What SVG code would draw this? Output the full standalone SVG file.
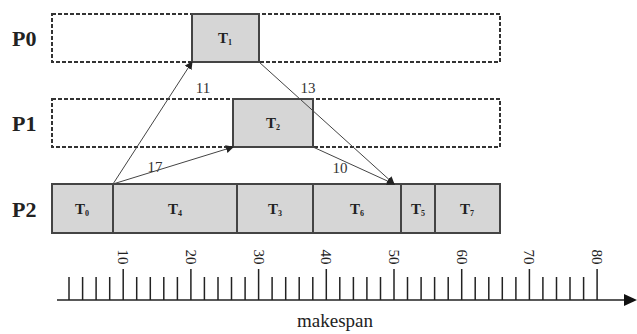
<svg xmlns="http://www.w3.org/2000/svg" width="637" height="334" viewBox="0 0 637 334">
<style>
text{font-family:'Liberation Serif','Times New Roman','DejaVu Serif',serif}
.pl{font-size:22px;fill:#222;font-weight:bold}
.tl{font-size:15px;font-weight:bold;fill:#222;text-anchor:middle}
.sub{font-size:8px}
.el{font-size:15px;fill:#333;text-anchor:middle}
.dash{fill:none;stroke:#333;stroke-width:2;stroke-dasharray:4 2}
.task{fill:#d6d6d6;stroke:#444;stroke-width:2}
.edge{stroke:#444;stroke-width:1;fill:none;marker-end:url(#ah)}
.tick{stroke:#222;stroke-width:1.5}
.ax{font-size:15px;fill:#222;text-anchor:middle}
</style>
<defs>
<marker id="ah" markerWidth="8" markerHeight="8" refX="7" refY="4" orient="auto" markerUnits="userSpaceOnUse">
<path d="M0,0 L8,4 L0,8 z" fill="#222"/>
</marker>
</defs>
<rect width="637" height="334" fill="#fff"/>
<g id="P0">
<text class="pl" x="12" y="46">P0</text>
<rect class="dash" x="52" y="14" width="448" height="48"/>
</g>
<g id="P1">
<text class="pl" x="12" y="131">P1</text>
<rect class="dash" x="52" y="99" width="448" height="48"/>
</g>
<g id="P2">
<text class="pl" x="12" y="217">P2</text>
<rect class="task" x="52" y="184" width="448" height="49"/>
</g>
<g id="T1"><rect class="task" x="192" y="14" width="67" height="48"/><text class="tl" x="225" y="43">T<tspan class="sub" dy="2">1</tspan></text></g>
<g id="T2"><rect class="task" x="233" y="99" width="80" height="48"/><text class="tl" x="273" y="128">T<tspan class="sub" dy="2">2</tspan></text></g>
<g id="T0"><rect class="task" x="52" y="184" width="61" height="49"/><text class="tl" x="82" y="214">T<tspan class="sub" dy="2">0</tspan></text></g>
<g id="T4"><rect class="task" x="113" y="184" width="124" height="49"/><text class="tl" x="175" y="214">T<tspan class="sub" dy="2">4</tspan></text></g>
<g id="T3"><rect class="task" x="237" y="184" width="76" height="49"/><text class="tl" x="275" y="214">T<tspan class="sub" dy="2">3</tspan></text></g>
<g id="T6"><rect class="task" x="313" y="184" width="88" height="49"/><text class="tl" x="357" y="214">T<tspan class="sub" dy="2">6</tspan></text></g>
<g id="T5"><rect class="task" x="401" y="184" width="34" height="49"/><text class="tl" x="418" y="214">T<tspan class="sub" dy="2">5</tspan></text></g>
<g id="T7"><rect class="task" x="435" y="184" width="65" height="49"/><text class="tl" x="467" y="214">T<tspan class="sub" dy="2">7</tspan></text></g>
<g id="connectors">
<line class="edge" x1="113" y1="184" x2="192" y2="62"/>
<line class="edge" x1="113" y1="184" x2="233" y2="147"/>
<line class="edge" x1="259" y1="62" x2="394" y2="184"/>
<line class="edge" x1="313" y1="147" x2="394" y2="184"/>
<text class="el" x="203" y="93">11</text>
<text class="el" x="308" y="93">13</text>
<text class="el" x="155" y="172">17</text>
<text class="el" x="340" y="173">10</text>
</g>
<g id="axis">
<line x1="57" y1="300" x2="626" y2="300" stroke="#222" stroke-width="1.5"/>
<path d="M624,294 L637,300 L624,306 z" fill="#111"/>
<g class="tick">
<line x1="69.0" y1="277" x2="69.0" y2="300"/><line x1="82.6" y1="277" x2="82.6" y2="300"/><line x1="96.1" y1="277" x2="96.1" y2="300"/><line x1="109.7" y1="277" x2="109.7" y2="300"/><line x1="123.2" y1="269" x2="123.2" y2="300"/>
<line x1="136.7" y1="277" x2="136.7" y2="300"/><line x1="150.3" y1="277" x2="150.3" y2="300"/><line x1="163.8" y1="277" x2="163.8" y2="300"/><line x1="177.4" y1="277" x2="177.4" y2="300"/><line x1="190.9" y1="269" x2="190.9" y2="300"/>
<line x1="204.4" y1="277" x2="204.4" y2="300"/><line x1="218.0" y1="277" x2="218.0" y2="300"/><line x1="231.5" y1="277" x2="231.5" y2="300"/><line x1="245.1" y1="277" x2="245.1" y2="300"/><line x1="258.6" y1="269" x2="258.6" y2="300"/>
<line x1="272.1" y1="277" x2="272.1" y2="300"/><line x1="285.7" y1="277" x2="285.7" y2="300"/><line x1="299.2" y1="277" x2="299.2" y2="300"/><line x1="312.8" y1="277" x2="312.8" y2="300"/><line x1="326.3" y1="269" x2="326.3" y2="300"/>
<line x1="339.8" y1="277" x2="339.8" y2="300"/><line x1="353.4" y1="277" x2="353.4" y2="300"/><line x1="366.9" y1="277" x2="366.9" y2="300"/><line x1="380.5" y1="277" x2="380.5" y2="300"/><line x1="394.0" y1="269" x2="394.0" y2="300"/>
<line x1="407.5" y1="277" x2="407.5" y2="300"/><line x1="421.1" y1="277" x2="421.1" y2="300"/><line x1="434.6" y1="277" x2="434.6" y2="300"/><line x1="448.2" y1="277" x2="448.2" y2="300"/><line x1="461.7" y1="269" x2="461.7" y2="300"/>
<line x1="475.2" y1="277" x2="475.2" y2="300"/><line x1="488.8" y1="277" x2="488.8" y2="300"/><line x1="502.3" y1="277" x2="502.3" y2="300"/><line x1="515.9" y1="277" x2="515.9" y2="300"/><line x1="529.4" y1="269" x2="529.4" y2="300"/>
<line x1="542.9" y1="277" x2="542.9" y2="300"/><line x1="556.5" y1="277" x2="556.5" y2="300"/><line x1="570.0" y1="277" x2="570.0" y2="300"/><line x1="583.6" y1="277" x2="583.6" y2="300"/><line x1="597.1" y1="269" x2="597.1" y2="300"/>
</g>
<text class="ax" transform="translate(118,257) rotate(90)">10</text>
<text class="ax" transform="translate(186,257) rotate(90)">20</text>
<text class="ax" transform="translate(254,257) rotate(90)">30</text>
<text class="ax" transform="translate(321,257) rotate(90)">40</text>
<text class="ax" transform="translate(389,257) rotate(90)">50</text>
<text class="ax" transform="translate(457,257) rotate(90)">60</text>
<text class="ax" transform="translate(524,257) rotate(90)">70</text>
<text class="ax" transform="translate(592,257) rotate(90)">80</text>
<text x="335" y="327" font-size="19" fill="#222" text-anchor="middle">makespan</text>
</g>
</svg>
